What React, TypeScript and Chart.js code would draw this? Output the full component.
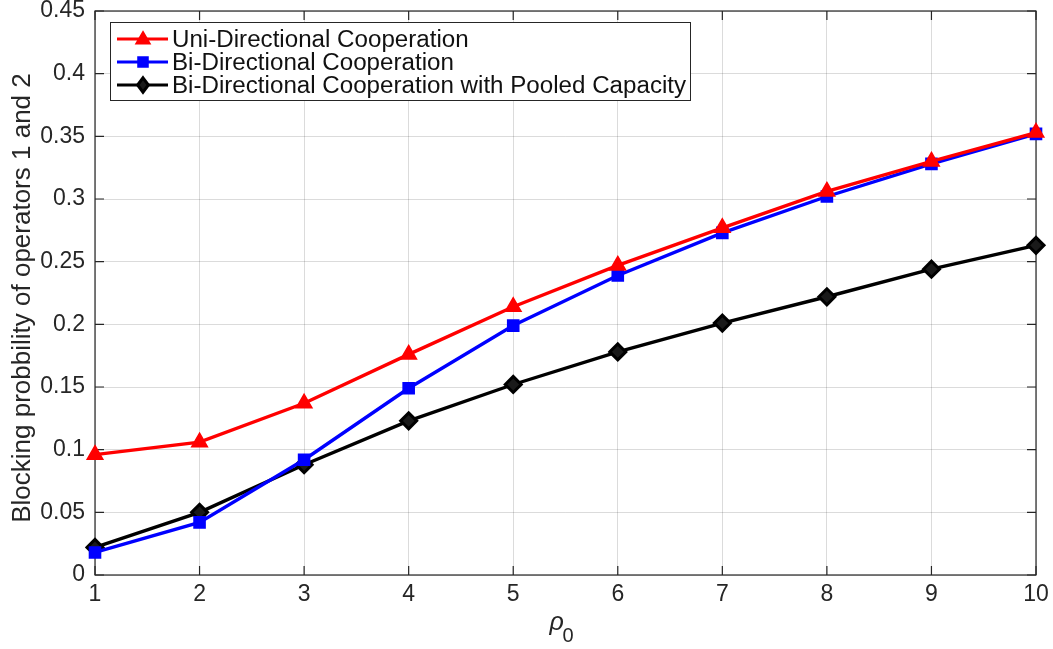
import React, { useEffect, useRef } from "react";
import { Chart, registerables } from "chart.js";

Chart.register(...registerables);

// Offered load values on the horizontal axis
const rho0 = [1, 2, 3, 4, 5, 6, 7, 8, 9, 10];

// Blocking probability of operators 1 and 2 for each scheme
const uniDirectional = [0.096, 0.106, 0.137, 0.176, 0.214, 0.247, 0.277, 0.306, 0.330, 0.353];
const biDirectional = [0.018, 0.042, 0.092, 0.149, 0.199, 0.239, 0.273, 0.302, 0.328, 0.352];
const biDirectionalPooled = [0.022, 0.050, 0.088, 0.123, 0.152, 0.178, 0.201, 0.222, 0.244, 0.263];

const seriesLabels = [
  "Uni-Directional Cooperation",
  "Bi-Directional Cooperation",
  "Bi-Directional Cooperation with Pooled Capacity",
];

const yTicks = [0, 0.05, 0.1, 0.15, 0.2, 0.25, 0.3, 0.35, 0.4, 0.45];

const yAxisTitle = "Blocking probbility of operators 1 and 2";

const FONT = "'Liberation Sans', Arial, Helvetica, sans-serif";
const TEXT = "#262626";

// Small marker painter used for the legend samples
function drawMarker(ctx: CanvasRenderingContext2D, ds: any, x: number, y: number) {
  const r = ds.pointRadius;
  ctx.save();
  ctx.fillStyle = ds.pointBackgroundColor;
  ctx.strokeStyle = ds.pointBorderColor;
  ctx.lineWidth = ds.pointBorderWidth;
  ctx.beginPath();
  if (ds.pointStyle === "triangle") {
    const h = r * 1.5;
    ctx.moveTo(x, y - h * 0.6);
    ctx.lineTo(x + r * 0.87, y + h * 0.4);
    ctx.lineTo(x - r * 0.87, y + h * 0.4);
  } else if (ds.pointStyle === "rect") {
    const s = r * Math.SQRT1_2;
    ctx.rect(x - s, y - s, 2 * s, 2 * s);
  } else {
    ctx.moveTo(x, y - r);
    ctx.lineTo(x + r * 0.75, y);
    ctx.lineTo(x, y + r);
    ctx.lineTo(x - r * 0.75, y);
  }
  ctx.closePath();
  ctx.fill();
  ctx.stroke();
  ctx.restore();
}

// Draws the boxed axes with inward ticks, the legend and the axis titles
const decorations = {
  id: "decorations",
  beforeDatasetsDraw(chart: any) {
    const { ctx, chartArea: a, scales } = chart;
    ctx.save();
    ctx.strokeStyle = "#262626";
    ctx.lineWidth = 1.2;
    ctx.strokeRect(a.left, a.top, a.right - a.left, a.bottom - a.top);
    const t = 9;
    ctx.beginPath();
    rho0.forEach((v) => {
      const x = scales.x.getPixelForValue(v);
      ctx.moveTo(x, a.bottom);
      ctx.lineTo(x, a.bottom - t);
      ctx.moveTo(x, a.top);
      ctx.lineTo(x, a.top + t);
    });
    yTicks.forEach((v) => {
      const y = scales.y.getPixelForValue(v);
      ctx.moveTo(a.left, y);
      ctx.lineTo(a.left + t, y);
      ctx.moveTo(a.right, y);
      ctx.lineTo(a.right - t, y);
    });
    ctx.stroke();
    ctx.restore();
  },
  afterDatasetsDraw(chart: any) {
    const { ctx, chartArea: a } = chart;
    ctx.save();

    // legend box
    const bx = 110, by = 22, bw = 580, bh = 78;
    ctx.fillStyle = "#ffffff";
    ctx.fillRect(bx, by, bw, bh);
    ctx.strokeStyle = "#262626";
    ctx.lineWidth = 1;
    ctx.strokeRect(bx + 0.5, by + 0.5, bw, bh);
    ctx.font = `23px ${FONT}`;
    ctx.textBaseline = "alphabetic";
    ctx.textAlign = "left";
    chart.data.datasets.forEach((ds: any, i: number) => {
      const cy = by + 17 + i * 23;
      ctx.strokeStyle = ds.borderColor;
      ctx.lineWidth = 3;
      ctx.beginPath();
      ctx.moveTo(bx + 7, cy);
      ctx.lineTo(bx + 58, cy);
      ctx.stroke();
      drawMarker(ctx, { ...ds, pointRadius: ds.pointRadius * 0.9 }, bx + 33, cy);
      ctx.fillStyle = "#111";
      ctx.save();
      ctx.translate(bx + 62, cy + 8);
      ctx.scale(1.05, 1);
      ctx.fillText(ds.label, 0, 0);
      ctx.restore();
    });

    // x axis title: rho with subscript 0
    const cx = (a.left + a.right) / 2;
    ctx.fillStyle = TEXT;
    ctx.textAlign = "left";
    ctx.textBaseline = "alphabetic";
    ctx.font = `italic 25px ${FONT}`;
    ctx.fillText("\u03c1", cx - 16, 630);
    ctx.font = `20px ${FONT}`;
    ctx.fillText("0", cx - 3, 642);

    // y axis title
    ctx.save();
    ctx.translate(30, (a.top + a.bottom) / 2 + 5);
    ctx.rotate(-Math.PI / 2);
    ctx.textAlign = "center";
    ctx.font = `26px ${FONT}`;
    ctx.fillText(yAxisTitle, 0, 0);
    ctx.restore();

    ctx.restore();
  },
};

export default function App() {
  const canvasRef = useRef<HTMLCanvasElement | null>(null);

  useEffect(() => {
    const canvas = canvasRef.current;
    if (!canvas) return;
    const mk = (
      label: string,
      values: number[],
      color: string,
      style: string,
      radius: number,
      bg: string,
      bw: number
    ) => ({
      label,
      data: rho0.map((x, i) => ({ x, y: values[i] })),
      borderColor: color,
      backgroundColor: color,
      borderWidth: 3.4,
      pointStyle: style,
      pointRadius: radius,
      pointBackgroundColor: bg,
      pointBorderColor: color,
      pointBorderWidth: bw,
      tension: 0,
      clip: false as any,
    });

    const chart = new Chart(canvas, {
      type: "line",
      data: {
        datasets: [
          mk(seriesLabels[0], uniDirectional, "#ff0000", "triangle", 9, "#ff0000", 1.5),
          mk(seriesLabels[1], biDirectional, "#0000ff", "rect", 7.5, "#0000ff", 2),
          mk(seriesLabels[2], biDirectionalPooled, "#000000", "rectRot", 8, "#1a1a1a", 3),
        ] as any,
      },
      options: {
        animation: false,
        responsive: false,
        maintainAspectRatio: false,
        layout: { padding: { top: 10, right: 17, left: 0, bottom: 0 } },
        plugins: {
          legend: { display: false },
          tooltip: { enabled: false },
        },
        scales: {
          x: {
            type: "linear",
            min: 1,
            max: 10,
            afterFit: (s: any) => {
              s.height = 74;
              s.paddingLeft = 0;
              s.paddingRight = 0;
            },
            ticks: {
              stepSize: 1,
              padding: 6,
              color: TEXT,
              font: { family: FONT, size: 23 },
            },
            grid: { color: "rgba(0,0,0,0.14)", lineWidth: 1, drawTicks: false },
            border: { display: false },
          },
          y: {
            min: 0,
            max: 0.45,
            afterFit: (s: any) => {
              s.width = 95;
              s.paddingTop = 0;
              s.paddingBottom = 0;
            },
            ticks: {
              stepSize: 0.05,
              padding: 10,
              color: TEXT,
              font: { family: FONT, size: 23 },
              callback: (v: any) => String(parseFloat(Number(v).toFixed(2))),
            },
            grid: { color: "rgba(0,0,0,0.14)", lineWidth: 1, drawTicks: false },
            border: { display: false },
          },
        },
      },
      plugins: [decorations],
    });
    return () => chart.destroy();
  }, []);

  return (
    <div style={{ position: "fixed", left: 0, top: 0, width: 1053, height: 649, background: "#fff" }}>
      <canvas ref={canvasRef} width={1053} height={649} style={{ display: "block" }} />
    </div>
  );
}
